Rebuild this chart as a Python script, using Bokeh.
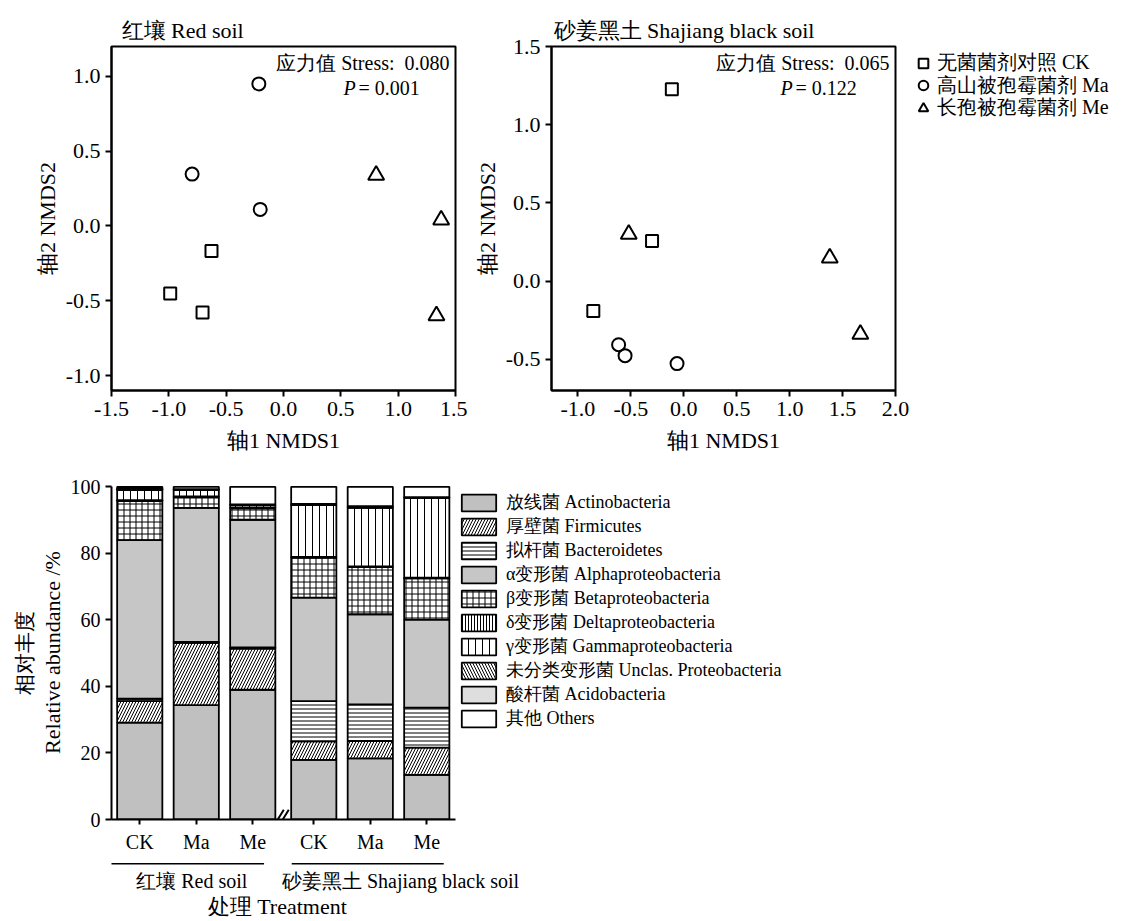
from bokeh.plotting import figure
from bokeh.models import (Range1d, FixedTicker, PrintfTickFormatter, Label, LinearAxis,
                          Legend, LegendItem, ColumnDataSource)
from bokeh.core.properties import value
from bokeh.layouts import column, row
from bokeh.embed import file_html
from bokeh.resources import INLINE

FONT = "Liberation Serif"
NAN = float("nan")

# ---------------- NMDS data ----------------
RED_CK_X = [-0.628, -0.988, -0.706]
RED_CK_Y = [-0.167, -0.452, -0.578]
RED_MA_X = [-0.215, -0.797, -0.203]
RED_MA_Y = [0.950, 0.347, 0.111]
RED_ME_X = [0.808, 1.375, 1.334]
RED_ME_Y = [0.340, 0.040, -0.600]

SJ_CK_X = [-0.113, -0.300, -0.855]
SJ_CK_Y = [1.226, 0.256, -0.192]
SJ_MA_X = [-0.616, -0.555, -0.064]
SJ_MA_Y = [-0.407, -0.477, -0.528]
SJ_ME_X = [-0.520, 1.379, 1.668]
SJ_ME_Y = [0.300, 0.148, -0.340]

RED_TICKS_X = [-1.5, -1.0, -0.5, 0.0, 0.5, 1.0, 1.5]
RED_TICKS_Y = [-1.0, -0.5, 0.0, 0.5, 1.0]
SJ_TICKS_X = [-1.0, -0.5, 0.0, 0.5, 1.0, 1.5, 2.0]
SJ_TICKS_Y = [-0.5, 0.0, 0.5, 1.0, 1.5]

SCATTER_LABELS = ["无菌菌剂对照 CK", "高山被孢霉菌剂 Ma", "长孢被孢霉菌剂 Me"]
RED_STRESS = "应力值 Stress:\u00a0 0.080"
RED_P = "= 0.001"
SJ_STRESS = "应力值 Stress:\u00a0 0.065"
SJ_P = "= 0.122"

# ---------------- community composition data ----------------
SOILS = ["红壤 Red soil", "砂姜黑土 Shajiang black soil"]
TREATMENTS = ["CK", "Ma", "Me", "CK", "Ma", "Me"]
TAXA = ["放线菌 Actinobacteria", "厚壁菌 Firmicutes", "拟杆菌 Bacteroidetes",
        "α变形菌 Alphaproteobacteria", "β变形菌 Betaproteobacteria",
        "δ变形菌 Deltaproteobacteria", "γ变形菌 Gammaproteobacteria",
        "未分类变形菌 Unclas. Proteobacteria", "酸杆菌 Acidobacteria", "其他 Others"]
ACTINO = [29.1, 34.4, 39.0, 17.9, 18.4, 13.4]
FIRMI = [6.5, 18.7, 12.4, 5.6, 5.2, 8.2]
BACTE = [0.7, 0.3, 0.3, 12.1, 11.0, 12.0]
ALPHA = [47.7, 40.3, 38.4, 31.1, 27.1, 26.5]
BETA = [11.7, 3.2, 3.4, 12.0, 14.2, 12.4]
DELTA = [0.3, 0.2, 0.3, 0.2, 0.2, 0.2]
GAMMA = [3.0, 1.9, 0.7, 15.6, 17.6, 24.0]
UNCLAS = [0.3, 0.2, 0.1, 0.2, 0.2, 0.1]
ACIDO = [0.2, 0.1, 0.1, 0.2, 0.3, 0.1]
OTHERS = [0.5, 0.7, 5.3, 5.1, 5.8, 3.1]
BAR_TICKS_Y = [0, 20, 40, 60, 80, 100]

# styles per taxon
FILL = ["#c0c0c0", "white", "white", "#c6c6c6", "white", "white", "white", "white", "#dedede", "white"]
HATCH = [" ", "/", "-", " ", "+", "|", "|", "\\", " ", " "]
HSCALE = [8, 6, 4, 8, 6, 3, 7, 6, 8, 8]

COMMON = dict(output_backend="svg", toolbar_location=None, frame_align=False)
TOP_H = 470


def blank_fig(width, height, top=0):
    p = figure(width=width, height=height, x_range=Range1d(0, 1), y_range=Range1d(0, 1),
               min_border_left=0, min_border_right=0, min_border_bottom=0, min_border_top=top,
               x_axis_location=None, y_axis_location=None, **COMMON)
    p.xgrid.visible = False
    p.ygrid.visible = False
    p.outline_line_color = None
    return p


def style_axis(ax, size):
    ax.axis_line_width = 2
    ax.axis_line_color = "black"
    ax.major_tick_line_width = 2
    ax.major_tick_line_color = "black"
    ax.major_tick_out = 6
    ax.major_tick_in = 0
    ax.minor_tick_line_color = None
    ax.major_label_text_font = FONT
    ax.major_label_text_font_size = size
    ax.major_label_text_color = "black"
    ax.axis_label_text_font = FONT
    ax.axis_label_text_font_size = "22px"
    ax.axis_label_text_font_style = "normal"
    ax.axis_label_text_color = "black"


def nmds_fig(title, xr, yr, xt, yt, bl, br):
    p = figure(width=bl + 344 + br, height=TOP_H, x_range=Range1d(*xr), y_range=Range1d(*yr),
               min_border_left=bl, min_border_right=br, min_border_top=46,
               min_border_bottom=TOP_H - 46 - 344,
               x_axis_label="轴1 NMDS1", y_axis_label="轴2 NMDS2", title=title, **COMMON)
    p.title.text_font = FONT
    p.title.text_font_size = "22px"
    p.title.text_font_style = "normal"
    p.title.text_color = "black"
    p.title.standoff = 8
    p.title.align = "left"
    p.xgrid.visible = False
    p.ygrid.visible = False
    p.outline_line_color = "black"
    p.outline_line_width = 2
    p.outline_line_alpha = 1
    for ax in (p.xaxis[0], p.yaxis[0]):
        style_axis(ax, "22px")
        ax.formatter = PrintfTickFormatter(format="%.1f")
    p.yaxis[0].axis_label_standoff = 3
    p.xaxis[0].axis_label_standoff = 9
    p.xaxis[0].ticker = FixedTicker(ticks=xt)
    p.yaxis[0].ticker = FixedTicker(ticks=yt)
    return p


MARKERS = ("square", "circle", "triangle")
MSIZES = (12, 13, 16)


def add_points(p, ck, ma, me):
    for (xs, ys), mk, sz in zip((ck, ma, me), MARKERS, MSIZES):
        p.scatter(xs, ys, marker=mk, size=sz, fill_color=None, line_color="black", line_width=2)


def add_stats(p, stress, pval, xend, yend, poff, eqoff):
    p.add_layout(Label(x=xend, y=yend, x_offset=-6, y_offset=-16, text=stress,
                       text_align="right", text_baseline="middle", text_font=FONT,
                       text_font_size="20px", text_color="black"))
    p.add_layout(Label(x=xend, y=yend, x_offset=poff, y_offset=-41, text="P",
                       text_align="left", text_baseline="middle", text_font=FONT,
                       text_font_style="italic", text_font_size="20px", text_color="black"))
    p.add_layout(Label(x=xend, y=yend, x_offset=eqoff, y_offset=-41, text=pval,
                       text_align="left", text_baseline="middle", text_font=FONT,
                       text_font_size="20px", text_color="black"))


p1 = nmds_fig(SOILS[0], (-1.5, 1.5), (-1.1, 1.2), RED_TICKS_X, RED_TICKS_Y, 111, 12)
p1.title.offset = 10
add_points(p1, (RED_CK_X, RED_CK_Y), (RED_MA_X, RED_MA_Y), (RED_ME_X, RED_ME_Y))
add_stats(p1, RED_STRESS, RED_P, 1.5, 1.2, -112, -97)

p2 = nmds_fig(SOILS[1], (-1.25, 2.0), (-0.7, 1.5), SJ_TICKS_X, SJ_TICKS_Y, 84, 16)
p2.title.offset = 2
add_points(p2, (SJ_CK_X, SJ_CK_Y), (SJ_MA_X, SJ_MA_Y), (SJ_ME_X, SJ_ME_Y))
add_stats(p2, SJ_STRESS, SJ_P, 2.0, 1.5, -115, -100)

# legend panel for the NMDS markers (proxy renderers carry the marker style)
pl2 = blank_fig(1121 - p1.width - p2.width, TOP_H)
ROW_CENTERS = [63, 85.5, 108]
ROW_H = 26
for lab, mk, sz, cy in zip(SCATTER_LABELS, MARKERS, MSIZES, ROW_CENTERS):
    r = pl2.scatter([NAN], [NAN], marker=mk, size=sz, fill_color=None, line_color="black",
                    line_width=2)
    pl2.add_layout(Legend(items=[LegendItem(label=lab, renderers=[r])],
                          location=(0, TOP_H - cy - ROW_H / 2),
                          glyph_width=24, glyph_height=24, label_height=22,
                          spacing=0, padding=0, margin=0, label_standoff=2,
                          label_text_font=FONT, label_text_font_size="20px",
                          label_text_color="black",
                          border_line_color=None, background_fill_alpha=0))

# ---------------- bar chart ----------------
GAP = 0.08
POS = [round(i + 1 + (GAP if i >= 3 else 0), 2) for i in range(len(TREATMENTS))]
KEYS = ["actino", "firmi", "bacte", "alpha", "beta", "delta", "gamma", "unclas", "acido", "others"]
src = ColumnDataSource(dict(x=POS, actino=ACTINO, firmi=FIRMI, bacte=BACTE, alpha=ALPHA,
                            beta=BETA, delta=DELTA, gamma=GAMMA, unclas=UNCLAS,
                            acido=ACIDO, others=OTHERS))

UNIT_PX = 56.5
FRAME_W = 344
FRAME_H = 345
Y_TOP = 100.4
BL, BR = 111, 2
MID_TOP = 485 - TOP_H
MID_H = MID_TOP + FRAME_H + 25
x_lo = POS[0] - 0.5
x_hi = x_lo + FRAME_W / UNIT_PX

p3 = figure(width=BL + FRAME_W + BR, height=MID_H, x_range=Range1d(x_lo, x_hi),
            y_range=Range1d(0, Y_TOP),
            min_border_left=BL, min_border_right=BR, min_border_top=MID_TOP, min_border_bottom=25,
            y_axis_label="Relative abundance /%", **COMMON)
p3.xgrid.visible = False
p3.ygrid.visible = False
p3.outline_line_color = None

bar_style = dict(fill_color=FILL, line_color="black", line_width=1.8, hatch_pattern=HATCH,
                 hatch_scale=HSCALE, hatch_color="black", hatch_weight=1)
p3.vbar_stack(KEYS, x="x", width=0.8, source=src, **bar_style)

for ax in (p3.xaxis[0], p3.yaxis[0]):
    style_axis(ax, "20px")
p3.xaxis[0].major_tick_out = 5
p3.xaxis[0].major_label_standoff = 6
p3.xaxis[0].ticker = FixedTicker(ticks=POS)
p3.xaxis[0].major_label_overrides = {pos: t for pos, t in zip(POS, TREATMENTS)}
p3.yaxis[0].ticker = FixedTicker(ticks=BAR_TICKS_Y)
p3.yaxis[0].bounds = (0, 100)
p3.yaxis[0].axis_label_standoff = 3

cn_axis = LinearAxis(ticker=FixedTicker(ticks=[]), axis_label="相对丰度",
                     axis_line_color=None, major_tick_line_color=None,
                     minor_tick_line_color=None, axis_label_standoff=0)
cn_axis.axis_label_text_font = FONT
cn_axis.axis_label_text_font_size = "21px"
cn_axis.axis_label_text_font_style = "normal"
cn_axis.axis_label_text_color = "black"
p3.add_layout(cn_axis, "left")

# axis break mark "//" drawn just above the x axis
BX = (POS[2] + POS[3]) / 2
SL_W, SL_H, SL_GAP = 6 / UNIT_PX, 10 * Y_TOP / FRAME_H, 5 / UNIT_PX
p3.segment(x0=[BX - SL_GAP / 2 - SL_W / 2, BX + SL_GAP / 2 - SL_W / 2], y0=[0, 0],
           x1=[BX - SL_GAP / 2 + SL_W / 2, BX + SL_GAP / 2 + SL_W / 2], y1=[SL_H, SL_H],
           line_color="black", line_width=2)

# legend panel for the taxa (proxy renderers carry the fill / hatch style)
pl3 = blank_fig(1121 - p3.width, MID_H, MID_TOP + 5)
pl3_src = ColumnDataSource({**{k: [NAN] for k in KEYS}, "x": [NAN]})
proxies3 = pl3.vbar_stack(KEYS, x="x", width=0.8, source=pl3_src, **bar_style)
pl3.add_layout(Legend(items=[LegendItem(label=l, renderers=[r])
                             for l, r in zip(TAXA, proxies3)],
                      location="top_left", glyph_width=43, glyph_height=21, label_height=21,
                      spacing=0, padding=0, margin=0, label_standoff=6,
                      label_text_font=FONT, label_text_font_size="18px",
                      label_text_color="black",
                      border_line_color=None, background_fill_alpha=0))

# ---------------- group labels strip below the bars ----------------
STRIP_H = 921 - TOP_H - MID_H
STRIP_W = 1121
p4_lo = x_lo - BL / UNIT_PX
p4_hi = p4_lo + STRIP_W / UNIT_PX
p4 = figure(width=STRIP_W, height=STRIP_H, x_range=Range1d(p4_lo, p4_hi),
            y_range=Range1d(0, STRIP_H), min_border=0, x_axis_location=None,
            y_axis_location=None, **COMMON)
p4.xgrid.visible = False
p4.ygrid.visible = False
p4.outline_line_color = None

red, sj = POS[0:3], POS[3:6]
LINE_Y = STRIP_H - 8.3
LAB_Y = STRIP_H - 25
TREAT_Y = STRIP_H - 51
p4.segment(x0=[red[0] - 0.5, sj[0] - 0.39], x1=[red[-1] + 0.2, sj[-1] + 0.3],
           y0=[LINE_Y, LINE_Y], y1=[LINE_Y, LINE_Y], line_color="black", line_width=1.6)
p4.text(x=[sum(red) / 3 - 0.08, sum(sj) / 3 + 0.535], y=[LAB_Y, LAB_Y], text=SOILS,
        text_align="center", text_baseline="middle", text_font=value(FONT),
        text_font_size="20px", text_color="black")
p4.text(x=[x_lo + (276.7 - BL) / UNIT_PX], y=[TREAT_Y], text=["处理 Treatment"],
        text_align="center", text_baseline="middle", text_font=value(FONT),
        text_font_size="22px", text_color="black")

layout = column(row(p1, p2, pl2), row(p3, pl3), p4)
open("out.html", "w").write(file_html(layout, INLINE))
